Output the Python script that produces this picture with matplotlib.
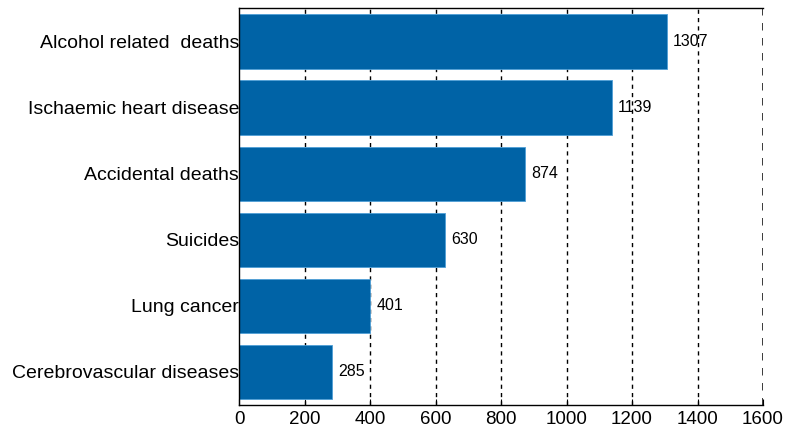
import matplotlib.pyplot as plt
import numpy as np

plt.rcParams['font.family'] = ['Liberation Sans', 'DejaVu Sans']

# causes of death, top to bottom
causes = ['Alcohol related  deaths', 'Ischaemic heart disease', 'Accidental deaths',
          'Suicides', 'Lung cancer', 'Cerebrovascular diseases']
deaths = [1307, 1139, 874, 630, 401, 285]
xticks = [0, 200, 400, 600, 800, 1000, 1200, 1400, 1600]

fig = plt.figure(figsize=(7.85, 4.4), dpi=100)
ax = fig.add_axes([0.3045, 0.0795, 0.6675, 0.9015])

y = np.arange(len(causes))
ax.barh(y, deaths, height=0.82, color='#0063a6', edgecolor='#4f9fd6',
        linewidth=0.6, zorder=2)

for yi, v in zip(y, deaths):
    ax.text(v + 18, yi, str(v), va='center', ha='left', fontsize=11.5, zorder=3)

# dashed vertical grid
for t in xticks[1:]:
    lw = 1.8 if t == 1600 else 1.0
    ax.axvline(t, color='black', linestyle=(0, (3, 3)), linewidth=lw, zorder=1)

ax.set_xlim(0, 1600)
ax.set_ylim(len(causes) - 0.5, -0.5)
ax.set_xticks(xticks)
ax.set_yticks(y)
ax.set_yticklabels(causes, fontsize=14)
ax.tick_params(axis='x', direction='in', length=4, labelsize=13.5, pad=4)
ax.tick_params(axis='y', length=0, pad=0)
ax.spines['right'].set_visible(False)
for s in ['left', 'top', 'bottom']:
    ax.spines[s].set_linewidth(1.0)

fig.savefig('out.png', dpi=100)
